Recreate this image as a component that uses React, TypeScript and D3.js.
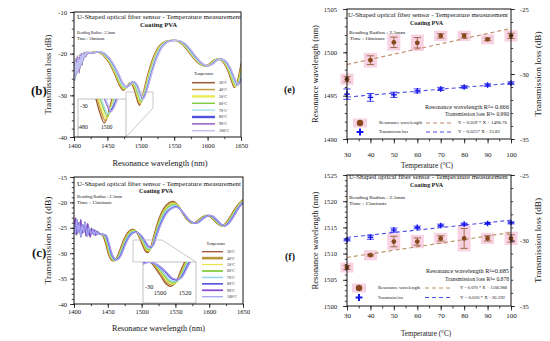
import React, { useEffect, useRef } from "react";
import * as d3 from "d3";

const SERIF = "'Liberation Serif', 'DejaVu Serif', serif";
const INK = "#151515";
const PINK = "#f8d2e2";

// ---------- spectra (b) and (c) ----------
const temps = [30, 40, 50, 60, 70, 80, 90, 100];
const tempNames = temps.map((t) => `${t}°C`);
const wlTicks = [1400, 1450, 1500, 1550, 1600, 1650];
const wlMinor = d3.range(1400, 1651, 25);

const coloursB = ["#9c5a32", "#c39a3c", "#e8ec56", "#84cc46", "#a8e0f0", "#5252e0", "#a073cc", "#c2c2f2"];
const coloursC = ["#a0522d", "#b8963c", "#e4e852", "#8ccf46", "#94d6f2", "#4444e0", "#8646d0", "#a6a6f2"];

// (b) 10 minutes, 30°C: [nm, dB, how strongly the point moves with temperature]
const specB = [
  [1425, -19.8, 0], [1432, -19.5, 0], [1440, -19.9, 0], [1448, -21.2, 0], [1455, -22.9, 0],
  [1462, -25.3, 0.1], [1468, -27.6, 0.3], [1474, -28.8, 0.5], [1479, -27.9, 0.3], [1484, -27.0, 0.2],
  [1489, -28.1, 0.4], [1494, -30.8, 0.8], [1498, -32.4, 1], [1502, -30.6, 0.6], [1507, -27.2, 0.2],
  [1513, -23.6, 0], [1520, -20.4, 0], [1528, -18.1, 0], [1536, -17.1, 0], [1545, -16.8, 0],
  [1553, -16.9, 0], [1561, -17.6, 0], [1569, -19.0, 0], [1577, -20.7, 0], [1585, -22.1, 0],
  [1592, -22.8, 0], [1597, -22.9, 0], [1603, -22.4, 0], [1610, -21.5, 0], [1616, -21.3, 0],
  [1622, -21.8, 0], [1629, -23.6, 0], [1635, -26.2, 0.2], [1640, -28.1, 0.4], [1644, -27.0, 0.2],
  [1647, -25.0, 0], [1650, -22.6, 0], [1655, -19.5, 0],
];
// noisy start, 1400..1424 nm every 1 nm
const noiseB1 = [-25.6, -22.4, -24.9, -21.2, -23.8, -20.6, -23.2, -21.0, -24.6, -20.2, -22.4, -19.9, -22.8, -20.3, -21.4, -19.7, -20.9, -19.9, -20.6, -19.6, -20.2, -19.8, -19.9, -19.7, -19.8];
const noiseB2 = [-23.0, -26.4, -21.6, -25.2, -22.1, -24.6, -20.9, -23.9, -21.4, -23.4, -20.5, -22.6, -20.1, -21.9, -20.0, -21.1, -20.1, -20.5, -19.8, -20.1, -19.7, -19.9, -19.7, -19.8, -19.8];
const shiftB = [0, 0.9, 1.5, 2.6, 3.1, 5.0, 5.3, 5.9];
const liftB = [0, 0.3, 0.6, 0.9, 1.2, 1.7, 1.5, 1.6];

// (c) 15 minutes, 30°C
const specC = [
  [1442, -26.4, 0], [1447, -28.2, 0], [1451, -30.2, 0.1], [1455, -31.3, 0.2], [1459, -31.5, 0.2],
  [1463, -30.9, 0.1], [1468, -29.3, 0], [1474, -27.2, -0.2], [1481, -25.7, -0.4], [1488, -25.3, -0.5],
  [1494, -26.2, -0.2], [1500, -28.0, 0.4], [1505, -29.5, 0.8], [1508.5, -29.9, 1], [1512, -29.4, 0.8],
  [1518, -26.6, 0.3], [1525, -23.5, -0.3], [1532, -21.3, -0.7], [1540, -20.1, -0.9], [1547, -19.8, -1],
  [1553, -20.4, -0.9], [1560, -22.0, -0.5], [1567, -23.4, -0.2], [1574, -24.1, 0], [1580, -23.9, 0],
  [1587, -23.1, 0], [1594, -22.6, 0], [1600, -22.7, 0], [1607, -23.5, 0], [1613, -24.3, 0],
  [1619, -24.6, 0], [1625, -24.0, 0], [1632, -22.6, 0], [1640, -20.9, 0], [1650, -19.4, 0], [1656, -18.8, 0],
];
// noisy start, 1400..1440 nm every 2 nm
const noiseC1 = [-25.0, -23.1, -26.4, -24.0, -25.6, -23.4, -26.1, -24.6, -25.1, -26.6, -24.2, -25.6, -26.8, -25.1, -26.0, -25.4, -26.5, -25.7, -26.1, -26.2, -26.3];
const noiseC2 = [-24.2, -26.2, -23.3, -25.9, -24.1, -26.8, -24.4, -25.9, -23.9, -25.3, -26.6, -24.9, -25.7, -26.3, -25.3, -26.4, -25.6, -26.3, -25.9, -26.1, -26.3];
const shiftC = [0, 0.8, 1.7, 2.3, 3.1, 4.4, 4.9, 5.2];
const liftC = [0, 0.2, 0.4, 0.6, 0.8, 1.1, 1.15, 1.2];

// ---------- temperature response (e) and (f) ----------
const resE = [1496.9, 1499.1, 1501.15, 1501.1, 1501.9, 1501.9, 1501.5, 1501.9];
const resErrE = [0.3, 0.5, 0.6, 0.6, 0.25, 0.25, 0.15, 0.3];
const lossE = [-31.55, -31.8, -31.6, -31.3, -31.15, -31.0, -30.85, -30.7];
const lossErrE = [0.4, 0.3, 0.2, 0.15, 0.12, 0.1, 0.1, 0.1];

const resF = [1507.35, 1509.7, 1512.3, 1512.3, 1512.9, 1512.9, 1512.9, 1512.9];
const resErrF = [0.35, 0.15, 1.0, 0.7, 0.5, 1.9, 0.5, 0.7];
const lossF = [-29.95, -29.75, -29.2, -29.0, -28.85, -28.75, -28.7, -28.65];
const lossErrF = [0.08, 0.15, 0.15, 0.1, 0.1, 0.08, 0.08, 0.08];

const seriesNames = ["Resonance wavelength", "Transmission loss"];
const eqE = ["Y = 0.059 * X + 1496.76", "Y = 0.025* X - 33.82"];
const r2E = ["Resonance wavelength R²= 0.666", "Transmission loss R²= 0.990"];
const eqF = ["Y = 0.070 * X + 1506.988", "Y = 0.020 * X - 30.592"];
const r2F = ["Resonance wavelength R²=0.685", "Transmission loss R²= 0.878"];

const titleText = "U-Shaped optical fiber sensor - Temperature measurement";
const coatText = "Coating PVA";
const bendText = "Bending Radius : 2.5mm";
const time10 = "Time : 10minute";
const time15 = "Time : 15minute";

const buildSpectrum = (noise: number[], step: number, base: number[][], shift: number, lift: number) => [
  ...noise.map((v, k) => [1400 + k * step, v]),
  ...base.map(([w, v, s]) => [w + shift, v + s * lift]),
];

const regression = (xs: number[], ys: number[]) => {
  const mx = d3.mean(xs) as number;
  const my = d3.mean(ys) as number;
  let sxy = 0;
  let sxx = 0;
  xs.forEach((x, i) => {
    sxy += (x - mx) * (ys[i] - my);
    sxx += (x - mx) * (x - mx);
  });
  const b = sxy / sxx;
  return (x: number) => my + b * (x - mx);
};

const Axis = ({ scale, orient, transform, ticks, minor = [], size = 4, pad = 3, font = 6.5 }: any) => {
  const ref = useRef<SVGGElement>(null);
  useEffect(() => {
    const make = orient === "bottom" ? d3.axisBottom : orient === "left" ? d3.axisLeft : d3.axisRight;
    const g = d3.select(ref.current);
    g.selectAll("*").remove();
    const gm = g.append("g");
    gm.call(make(scale).tickValues(minor).tickSize(size * 0.55).tickSizeOuter(0).tickFormat(() => ""));
    gm.select(".domain").remove();
    const gM = g.append("g");
    gM.call(make(scale).tickValues(ticks).tickSize(size).tickPadding(pad).tickSizeOuter(0).tickFormat((d: any) => String(d)));
    gM.select(".domain").remove();
    g.selectAll("text").attr("font-family", SERIF).attr("font-size", font).attr("fill", INK);
    g.selectAll("line").attr("stroke", INK).attr("stroke-width", 0.8);
  }, [scale, orient, ticks, minor, size, pad, font]);
  return <g ref={ref} transform={transform} />;
};

const Header = ({ p }: any) => (
  <g>
    <text x={p.title[0]} y={p.title[1]} fontSize={6.4} textLength={p.title[2]} lengthAdjust="spacingAndGlyphs">{titleText}</text>
    <text x={p.coat[0]} y={p.coat[1]} fontSize={6.6} fontWeight="bold" textLength={p.coat[2]} lengthAdjust="spacingAndGlyphs">{coatText}</text>
    <text x={p.bend[0]} y={p.bend[1]} fontSize={4.8} textLength={p.bend[2]} lengthAdjust="spacingAndGlyphs">{bendText}</text>
    <text x={p.time[0]} y={p.time[1]} fontSize={4.8} textLength={p.time[2]} lengthAdjust="spacingAndGlyphs">{p.timeText}</text>
  </g>
);

const SpectrumPanel = ({ p }: any) => {
  const x = d3.scaleLinear().domain([1400, 1650]).range([p.left, p.right]);
  const y = d3.scaleLinear().domain(p.yDomain).range([p.bottom, p.top]);
  const I = p.inset;
  const ix = d3.scaleLinear().domain(I.xDomain).range(I.xRange);
  const iy = d3.scaleLinear().domain(I.yDomain).range(I.yRange);
  const curves = temps.map((_, i) => buildSpectrum(p.noise[i % 2], p.noiseStep, p.spec, p.shift[i], p.lift[i]));
  const mainLine = d3.line<number[]>().x((d) => x(d[0])).y((d) => y(d[1])).curve(d3.curveCatmullRom.alpha(0.5));
  const insetLine = d3.line<number[]>().x((d) => ix(d[0])).y((d) => iy(d[1])).curve(d3.curveCatmullRom.alpha(0.5));
  const L = p.legend;
  const midY = (p.top + p.bottom) / 2;
  return (
    <g fontFamily={SERIF} fill={INK}>
      <defs>
        <clipPath id={`plot-${p.id}`}>
          <rect x={p.left} y={p.top} width={p.right - p.left} height={p.bottom - p.top} />
        </clipPath>
        <clipPath id={`inset-${p.id}`}>
          <rect x={I.x0} y={I.y0} width={I.x1 - I.x0} height={I.y1 - I.y0} />
        </clipPath>
      </defs>
      <text x={p.tagX} y={p.tagY} fontSize={13} fontWeight="bold">{p.tag}</text>
      <Header p={p} />
      <g clipPath={`url(#plot-${p.id})`}>
        {curves.map((c, i) => (
          <path key={i} d={mainLine(c as any) ?? ""} fill="none" stroke={p.colours[i]} strokeWidth={1.25} />
        ))}
      </g>
      <polyline points={I.zoom} fill="none" stroke="#b2b2b2" strokeWidth={0.7} />
      <rect x={I.x0} y={I.y0} width={I.x1 - I.x0} height={I.y1 - I.y0} fill="#fff" stroke="#a6a6a6" strokeWidth={0.7} />
      <g clipPath={`url(#inset-${p.id})`}>
        {curves.map((c, i) => (
          <path key={i} d={insetLine(c as any) ?? ""} fill="none" stroke={p.colours[i]} strokeWidth={1.3} />
        ))}
        <text x={I.yLabelX} y={I.yLabelY} fontSize={I.font}>{I.yDomain[0]}</text>
        {I.xLabels.map((v: number) => (
          <text key={v} x={ix(v)} y={I.xLabelY} fontSize={I.font} textAnchor="middle">{v}</text>
        ))}
      </g>
      <text x={L.titleX} y={L.titleY} fontSize={L.font} textAnchor="middle">Temperature</text>
      {tempNames.map((name, i) => (
        <g key={name}>
          <line x1={L.x0} x2={L.x1} y1={L.y0 + i * L.dy} y2={L.y0 + i * L.dy} stroke={p.colours[i]} strokeWidth={L.widths[i]} />
          <text x={L.labelX} y={L.y0 + i * L.dy + 1.4} fontSize={L.font}>{name}</text>
        </g>
      ))}
      <rect x={p.left} y={p.top} width={p.right - p.left} height={p.bottom - p.top} fill="none" stroke={INK} strokeWidth={1} />
      <Axis scale={x} orient="bottom" transform={`translate(0,${p.bottom})`} ticks={wlTicks} minor={wlMinor} pad={p.xPad} font={6.6} />
      <Axis scale={y} orient="left" transform={`translate(${p.left},0)`} ticks={p.yTicks} minor={p.yMinor} pad={3} font={6.6} />
      <text x={p.xTitle[0]} y={p.xTitle[1]} fontSize={8} textAnchor="middle" textLength={p.xTitle[2]} lengthAdjust="spacingAndGlyphs">Resonance wavelength (nm)</text>
      <text transform={`translate(${p.yTitle[0]},${midY}) rotate(-90)`} fontSize={8} textAnchor="middle" textLength={p.yTitle[1]} lengthAdjust="spacingAndGlyphs">Transmission loss (dB)</text>
    </g>
  );
};

const TempPanel = ({ p }: any) => {
  const x = d3.scaleLinear().domain([30, 100]).range([p.left, p.right]);
  const yl = d3.scaleLinear().domain(p.resDomain).range([p.bottom, p.top]);
  const yr = d3.scaleLinear().domain([-35, -25]).range([p.bottom, p.top]);
  const fitR = regression(temps, p.res);
  const fitL = regression(temps, p.loss);
  const ends = [30, 100];
  const midY = (p.top + p.bottom) / 2;
  const cap = 3.6;
  const plus = (cx: number, cy: number, r: number, w: number, key?: any) => (
    <g key={key} stroke="#1414ee" strokeWidth={w}>
      <line x1={cx - r} x2={cx + r} y1={cy} y2={cy} />
      <line x1={cx} x2={cx} y1={cy - r} y2={cy + r} />
    </g>
  );
  const G = p.legend;
  return (
    <g fontFamily={SERIF} fill={INK}>
      <text x={p.tagX} y={p.tagY} fontSize={10} fontWeight="bold">{p.tag}</text>
      <Header p={p} />
      {temps.map((t, i) => {
        const y0 = yl(p.res[i] + p.resErr[i]);
        const y1 = yl(p.res[i] - p.resErr[i]);
        const h = Math.max(10, y1 - y0 + 6);
        return <rect key={t} x={x(t) - 6.5} y={yl(p.res[i]) - h / 2} width={13} height={h} fill={PINK} />;
      })}
      <line x1={x(ends[0])} x2={x(ends[1])} y1={yl(fitR(ends[0]))} y2={yl(fitR(ends[1]))} stroke={p.fitColour} strokeWidth={1.1} strokeDasharray="4,3" />
      <line x1={x(ends[0])} x2={x(ends[1])} y1={yr(fitL(ends[0]))} y2={yr(fitL(ends[1]))} stroke="#4c4ce8" strokeWidth={1.1} strokeDasharray="4,3" />
      {temps.map((t, i) => {
        const a = yl(p.res[i] + p.resErr[i]);
        const b = yl(p.res[i] - p.resErr[i]);
        return (
          <g key={t} stroke="#8a5526" strokeWidth={0.8}>
            <line x1={x(t)} x2={x(t)} y1={a} y2={b} />
            <line x1={x(t) - cap} x2={x(t) + cap} y1={a} y2={a} />
            <line x1={x(t) - cap} x2={x(t) + cap} y1={b} y2={b} />
            <circle cx={x(t)} cy={yl(p.res[i])} r={2.4} fill="#86481c" stroke="none" />
          </g>
        );
      })}
      {temps.map((t, i) => {
        const a = yr(p.loss[i] + p.lossErr[i]);
        const b = yr(p.loss[i] - p.lossErr[i]);
        return (
          <g key={t}>
            <g stroke="#1414ee" strokeWidth={0.8}>
              <line x1={x(t)} x2={x(t)} y1={a} y2={b} />
              <line x1={x(t) - cap} x2={x(t) + cap} y1={a} y2={a} />
              <line x1={x(t) - cap} x2={x(t) + cap} y1={b} y2={b} />
            </g>
            {plus(x(t), yr(p.loss[i]), 2.8, 1.4)}
          </g>
        );
      })}
      <text x={p.right - 2} y={G.r2y[0]} fontSize={5.8} textAnchor="end" textLength={G.r2len[0]} lengthAdjust="spacingAndGlyphs">{p.r2[0]}</text>
      <text x={p.right - 2} y={G.r2y[1]} fontSize={5.2} textAnchor="end" textLength={G.r2len[1]} lengthAdjust="spacingAndGlyphs">{p.r2[1]}</text>
      <rect x={G.mx - 7} y={G.rows[0] - 4.5} width={14} height={9} fill={PINK} />
      <circle cx={G.mx} cy={G.rows[0]} r={3.2} fill="#86481c" />
      {plus(G.mx, G.rows[1], 3.4, 2)}
      {seriesNames.map((name, k) => (
        <g key={name}>
          <text x={G.nameX} y={G.rows[k] + 1.3} fontSize={3.8} textLength={G.nameLen[k]} lengthAdjust="spacingAndGlyphs">{name}</text>
          <line x1={G.dash[0]} x2={G.dash[1]} y1={G.rows[k]} y2={G.rows[k]} stroke={k === 0 ? p.fitColour : "#4c4ce8"} strokeWidth={1.1} strokeDasharray="4,3" />
          <text x={G.eqX} y={G.rows[k] + 1.3} fontSize={3.8} textLength={G.eqLen[k]} lengthAdjust="spacingAndGlyphs">{p.eq[k]}</text>
        </g>
      ))}
      <rect x={p.left} y={p.top} width={p.right - p.left} height={p.bottom - p.top} fill="none" stroke={INK} strokeWidth={1} />
      <Axis scale={x} orient="bottom" transform={`translate(0,${p.bottom})`} ticks={temps} minor={d3.range(30, 101, 5)} size={4.5} pad={p.xPad} font={7} />
      <Axis scale={yl} orient="left" transform={`translate(${p.left},0)`} ticks={p.resTicks} minor={p.resMinor} size={4} pad={6} font={6.6} />
      <Axis scale={yr} orient="right" transform={`translate(${p.right},0)`} ticks={[-35, -30, -25]} minor={d3.range(-35, -24, 1)} size={4} pad={5} font={6.6} />
      <text x={p.xTitle[0]} y={p.xTitle[1]} fontSize={8} textAnchor="middle" textLength={p.xTitle[2]} lengthAdjust="spacingAndGlyphs">Temperature (°C)</text>
      <text transform={`translate(318,${midY}) rotate(-90)`} fontSize={8.5} textAnchor="middle" textLength={98} lengthAdjust="spacingAndGlyphs">Resonance wavelength (nm)</text>
      <text transform={`translate(541,${midY}) rotate(-90)`} fontSize={8} textAnchor="middle" textLength={85} lengthAdjust="spacingAndGlyphs">Transmission loss (dB)</text>
    </g>
  );
};

const panelB = {
  id: "b", tag: "(b)", tagX: 31, tagY: 95,
  left: 74, right: 241, top: 12, bottom: 137, xPad: 2,
  yDomain: [-40, -10], yTicks: [-40, -30, -20, -10], yMinor: d3.range(-40, -9, 2),
  spec: specB, noise: [noiseB1, noiseB2], noiseStep: 1, shift: shiftB, lift: liftB, colours: coloursB,
  title: [77, 18.8, 164], coat: [140, 26.5, 37], bend: [77, 34, 38], time: [77, 40.3, 28], timeText: time10,
  xTitle: [160, 166, 95], yTitle: [51, 80],
  legend: { x0: 192, x1: 215, labelX: 219, titleX: 204, titleY: 74.5, y0: 82.7, dy: 6.86, font: 3.9, widths: [1.5, 1.5, 2.4, 1.5, 1.5, 2.4, 1.7, 1.5] },
  inset: {
    x0: 78, y0: 99, x1: 126, y1: 137, xDomain: [1480, 1500], xRange: [82, 106.7], yDomain: [-30, -33], yRange: [105, 127.5],
    yLabelX: 80, yLabelY: 107.5, xLabels: [1480, 1500, 1520], xLabelY: 128.5, font: 5.8,
    zoom: "126,99 126,92 153,92 153,108 126,137",
  },
};

const panelC = {
  id: "c", tag: "(c)", tagX: 32, tagY: 257,
  left: 74, right: 243, top: 177, bottom: 304, xPad: 1,
  yDomain: [-40, -15], yTicks: [-40, -35, -30, -25, -20, -15], yMinor: d3.range(-40, -14, 1),
  spec: specC, noise: [noiseC1, noiseC2], noiseStep: 2, shift: shiftC, lift: liftC, colours: coloursC,
  title: [77, 185.5, 164], coat: [139, 192.5, 34], bend: [77, 197.8, 45], time: [77, 203.6, 35], timeText: time15,
  xTitle: [158.5, 331, 93], yTitle: [51, 88],
  legend: { x0: 202, x1: 223, labelX: 227, titleX: 216, titleY: 244.5, y0: 251.7, dy: 6.43, font: 3.8, widths: [1.3, 2.6, 1.3, 1.9, 1.5, 1.5, 1.7, 1.3] },
  inset: {
    x0: 143, y0: 262, x1: 196, y1: 303, xDomain: [1500, 1520], xRange: [160, 185], yDomain: [-30, -29], yRange: [287, 281],
    yLabelX: 145, yLabelY: 288.8, xLabels: [1500, 1520], xLabelY: 294.5, font: 6.3,
    zoom: "143,262 133,262 133,240 162,240 196,262",
  },
};

const panelE = {
  tag: "(e)", tagX: 284, tagY: 93,
  left: 347, right: 511, top: 9, bottom: 139, xPad: 9,
  resDomain: [1490, 1505], resTicks: [1490, 1495, 1500, 1505], resMinor: d3.range(1490, 1506, 1),
  res: resE, resErr: resErrE, loss: lossE, lossErr: lossErrE, eq: eqE, r2: r2E, fitColour: "#c08a68",
  title: [348, 17, 160], coat: [410, 24.5, 33], bend: [349, 33.5, 56], time: [350, 39.5, 35], timeText: time10,
  xTitle: [427, 168, 52],
  legend: { r2y: [108.5, 116], r2len: [84, 64], mx: 360, rows: [123, 132], nameX: 379, nameLen: [43, 29], dash: [426, 452], eqX: 458, eqLen: [49, 42] },
};

const panelF = {
  tag: "(f)", tagX: 285, tagY: 260,
  left: 347, right: 511, top: 175, bottom: 306, xPad: 3,
  resDomain: [1500, 1525], resTicks: [1500, 1505, 1510, 1515, 1520, 1525], resMinor: d3.range(1500, 1526, 1),
  res: resF, resErr: resErrF, loss: lossF, lossErr: lossErrF, eq: eqF, r2: r2F, fitColour: "#b4925e",
  title: [349, 178.8, 159], coat: [410, 187, 33], bend: [349, 199, 56], time: [349, 205, 38], timeText: time15,
  xTitle: [426, 336, 50],
  legend: { r2y: [273, 281], r2len: [83, 64], mx: 359, rows: [288, 297.5], nameX: 378, nameLen: [42, 25], dash: [425, 453], eqX: 460, eqLen: [47, 45] },
};

export default function App() {
  return (
    <svg width={550} height={341} style={{ position: "absolute", left: 0, top: 0, background: "#fff" }}>
      <rect width={550} height={341} fill="#fff" />
      <SpectrumPanel p={panelB} />
      <SpectrumPanel p={panelC} />
      <TempPanel p={panelE} />
      <TempPanel p={panelF} />
    </svg>
  );
}
